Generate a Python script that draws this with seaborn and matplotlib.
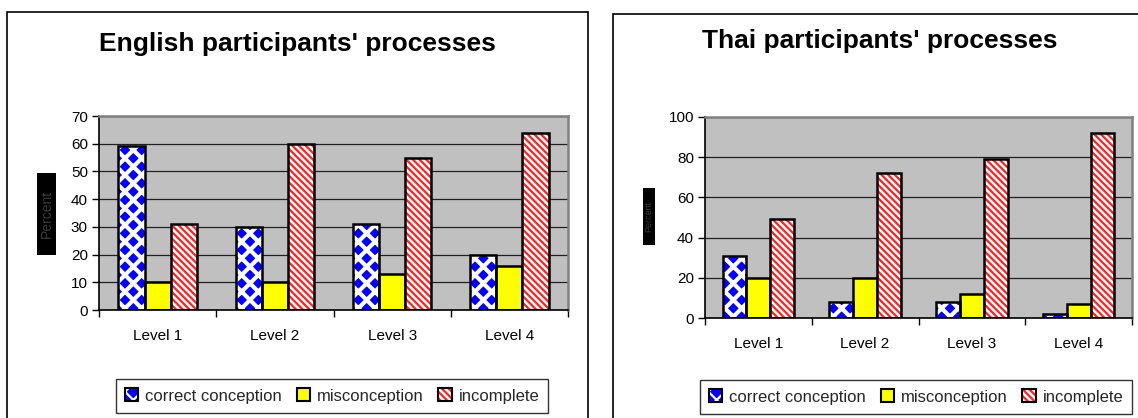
import matplotlib
matplotlib.use("Agg")
import matplotlib.pyplot as plt
from matplotlib.patches import Rectangle, Patch
from matplotlib.legend_handler import HandlerTuple
import seaborn as sns
import pandas as pd

levels = ["Level 1", "Level 2", "Level 3", "Level 4"]
categories = ["correct conception", "misconception", "incomplete"]
english_correct = [59, 30, 31, 20]
english_miscon = [10, 10, 13, 16]
english_incomplete = [31, 60, 55, 64]
thai_correct = [31, 8, 8, 2]
thai_miscon = [20, 20, 12, 7]
thai_incomplete = [49.5, 72, 79, 92]

sns.set_theme(style="white")
plt.rcParams["font.family"] = ["Liberation Sans", "DejaVu Sans"]
plt.rcParams["hatch.linewidth"] = 1.6

W, H = 1138, 418
fig = plt.figure(figsize=(W / 100, H / 100), dpi=100)
fig.patch.set_facecolor("white")


def fx(px):
    return px / W


def fy(py):
    return 1 - py / H


# chart frames
fig.add_artist(Rectangle((fx(7), fy(430)), fx(588 - 7), fy(12) - fy(430),
                         transform=fig.transFigure, fill=False,
                         edgecolor="black", lw=1.2))
fig.add_artist(Rectangle((fx(613), fy(430)), fx(1160 - 613), fy(14) - fy(430),
                         transform=fig.transFigure, fill=False,
                         edgecolor="black", lw=1.2))

styles = {
    "correct conception": dict(face="#0000FF", hatch="xx", hcol="white", hlw=3.0),
    "misconception": dict(face="#FFFF00", hatch=None, hcol=None, hlw=None),
    "incomplete": dict(face="white", hatch="\\\\\\\\\\", hcol="#FF2020", hlw=1.6),
}


def set_hatch_lw(p, lw):
    if lw is not None and hasattr(p, "set_hatch_linewidth"):
        p.set_hatch_linewidth(lw)


def style_patch(p, cat, ax):
    st = styles[cat]
    p.set_facecolor(st["face"])
    if st["hatch"]:
        p.set_hatch(st["hatch"])
        set_hatch_lw(p, st["hlw"])
        p.set_edgecolor(st["hcol"])
        p.set_linewidth(0)
        x, y = p.get_xy()
        ax.add_patch(Rectangle((x, y), p.get_width(), p.get_height(),
                               fill=False, edgecolor="black", lw=1.8,
                               zorder=p.get_zorder() + 0.1))
    else:
        p.set_edgecolor("black")
        p.set_linewidth(1.8)


def legend_handle(cat):
    st = styles[cat]
    if st["hatch"]:
        inner = Patch(facecolor=st["face"], edgecolor=st["hcol"],
                      hatch=st["hatch"], lw=0)
        set_hatch_lw(inner, st["hlw"])
        outer = Patch(fill=False, edgecolor="black", lw=1.5)
        return (inner, outer)
    return Patch(facecolor=st["face"], edgecolor="black", lw=1.5)


def draw_panel(rect, vals, ymax, ystep, title, title_xy, ylab_box, ylab_size,
               leg_center):
    ax = fig.add_axes(rect)
    df = pd.DataFrame({
        "level": levels * 3,
        "category": [c for c in categories for _ in levels],
        "value": vals[0] + vals[1] + vals[2],
    })
    sns.barplot(data=df, x="level", y="value", hue="category",
                hue_order=categories, order=levels, width=0.67,
                palette=["#0000FF", "#FFFF00", "white"], ax=ax,
                legend=False, errorbar=None, saturation=1)
    for cont, cat in zip(ax.containers, categories):
        for p in cont.patches:
            style_patch(p, cat, ax)

    ax.set_facecolor("#C0C0C0")
    ax.set_xlim(-0.5, 3.5)
    ax.set_ylim(0, ymax)
    ax.set_yticks(range(0, ymax + 1, ystep))
    ax.yaxis.grid(True, color="#202020", lw=0.9)
    ax.set_axisbelow(True)
    ax.set_xlabel("")
    ax.set_ylabel("")
    ax.set_xticks(range(len(levels)), levels)
    ax.set_xticks([i - 0.5 for i in range(len(levels) + 1)], minor=True)
    ax.tick_params(axis="x", which="major", length=0, pad=14, labelsize=11,
                   colors="black")
    ax.tick_params(axis="x", which="minor", length=5, width=1, direction="out",
                   bottom=True, color="black")
    ax.tick_params(axis="y", length=5, width=1, direction="out", left=True,
                   pad=3, labelsize=11, colors="black")
    for s in ["left", "bottom"]:
        ax.spines[s].set_color("black")
        ax.spines[s].set_linewidth(1.2)
    for s in ["top", "right"]:
        ax.spines[s].set_color("#808080")
        ax.spines[s].set_linewidth(1.8)

    fig.text(fx(title_xy[0]), fy(title_xy[1]), title, ha="center",
             va="center", fontsize=19, fontweight="bold", color="black")

    # axis title on a black block
    x0, y0, x1, y1 = ylab_box
    fig.add_artist(Rectangle((fx(x0), fy(y1)), fx(x1 - x0), fy(y0) - fy(y1),
                             transform=fig.transFigure, facecolor="black",
                             edgecolor="none"))
    fig.text(fx((x0 + x1) / 2), fy((y0 + y1) / 2), "Percent", rotation=90,
             ha="center", va="center", fontsize=ylab_size, color="#3a3a3a")

    handles = [legend_handle(c) for c in categories]
    leg = fig.legend(handles=handles, labels=categories, loc="center",
                     bbox_to_anchor=(fx(leg_center[0]), fy(leg_center[1])),
                     ncol=3, frameon=True, fancybox=False, fontsize=12,
                     handlelength=0.8, handleheight=0.8, handletextpad=0.4,
                     columnspacing=0.9, borderpad=0.55, edgecolor="black",
                     handler_map={tuple: HandlerTuple(ndivide=1, pad=0)})
    leg.get_frame().set_linewidth(1.0)
    return ax


draw_panel([fx(99), fy(310), fx(568 - 99), fy(116) - fy(310)],
           [english_correct, english_miscon, english_incomplete], 70, 10,
           "English participants' processes", (297, 44), (37, 173, 56, 255),
           10, (332, 396))
draw_panel([fx(705), fy(318), fx(1132 - 705), fy(117) - fy(318)],
           [thai_correct, thai_miscon, thai_incomplete], 100, 20,
           "Thai participants' processes", (880, 41), (643, 188, 655, 245),
           6.5, (916, 397))

fig.savefig("out.png", dpi=100)
